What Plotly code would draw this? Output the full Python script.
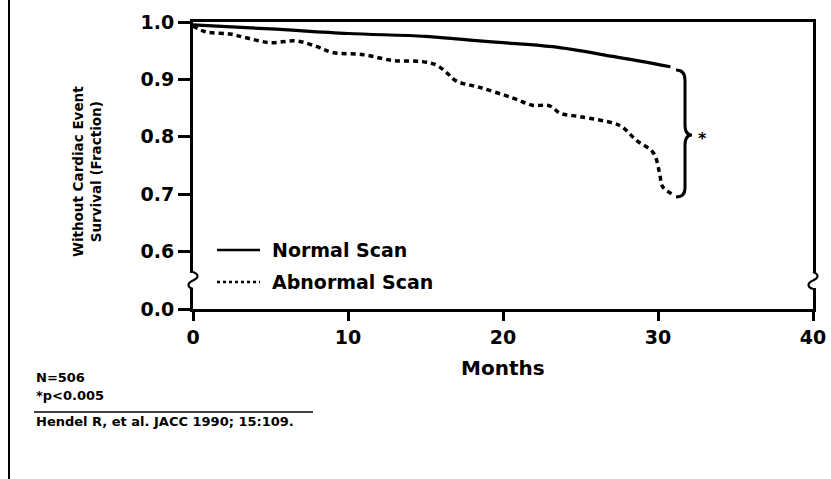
import plotly.graph_objects as go

# ---- data ----
months_normal = [0.0, 5.0, 10.0, 15.0, 18.5, 20.0, 23.2, 27.1, 30.8]
survival_normal = [0.995, 0.988, 0.980, 0.975, 0.967, 0.964, 0.957, 0.940, 0.922]

months_abnormal = [0.0, 0.8, 2.4, 3.5, 5.0, 6.7, 8.0, 9.0, 11.0, 12.9, 14.8, 15.7,
                   16.4, 17.0, 18.5, 20.6, 21.9, 23.0, 23.7, 25.0, 27.1, 27.7,
                   28.6, 29.7, 30.1, 30.3, 31.0]
survival_abnormal = [0.993, 0.983, 0.979, 0.972, 0.964, 0.967, 0.957, 0.947, 0.943,
                     0.933, 0.931, 0.925, 0.911, 0.897, 0.886, 0.868, 0.855, 0.854,
                     0.841, 0.835, 0.824, 0.817, 0.794, 0.772, 0.737, 0.713, 0.699]

x_tickvals = [0, 10, 20, 30, 40]
y_tickvals = [0.5, 0.6, 0.7, 0.8, 0.9, 1.0]
y_ticktext = ["0.0", "0.6", "0.7", "0.8", "0.9", "1.0"]

series_names = ["Normal Scan", "Abnormal Scan"]
notes = ["N=506", "*p<0.005"]
citation = "Hendel R, et al. JACC 1990; 15:109."

# ---- layout geometry (pixels) ----
W, H = 831, 479
L, R, T, B = 193, 813, 22, 309
FONT = "DejaVu Sans"


def px(x):
    return (x - L) / (R - L)


def py(y):
    return (B - y) / (B - T)


fig = go.Figure()
fig.add_trace(go.Scatter(x=months_normal, y=survival_normal, mode="lines",
                         name=series_names[0], line=dict(color="black", width=3.2, shape="spline"),
                         showlegend=False))
fig.add_trace(go.Scatter(x=months_abnormal, y=survival_abnormal, mode="lines",
                         name=series_names[1],
                         line=dict(color="black", width=3.5, dash="5px,4px", shape="spline"),
                         showlegend=False))

shapes = []
annotations = []

# axis breaks (left and right)
for ax in (L, R):
    shapes.append(dict(type="line", xref="paper", yref="paper", x0=px(ax), x1=px(ax),
                       y0=py(273), y1=py(288), line=dict(color="white", width=6), layer="above"))
    path = "M {},{} C {},{} {},{} {},{} C {},{} {},{} {},{}".format(
        px(ax), py(272), px(ax + 6), py(274), px(ax + 6), py(278), px(ax), py(280.5),
        px(ax - 6), py(283), px(ax - 6), py(287), px(ax), py(289))
    shapes.append(dict(type="path", xref="paper", yref="paper", path=path,
                       line=dict(color="black", width=2.2), layer="above"))

# brace
bp = [(676, 70), (685, 70), (685, 80), (685, 125), (685, 135), (692, 135),
      (685, 135), (685, 145), (685, 188), (685, 197), (676, 197)]
bpp = [(px(a), py(b)) for a, b in bp]
path = ("M {0[0]},{0[1]} Q {1[0]},{1[1]} {2[0]},{2[1]} L {3[0]},{3[1]} "
        "Q {4[0]},{4[1]} {5[0]},{5[1]} Q {6[0]},{6[1]} {7[0]},{7[1]} "
        "L {8[0]},{8[1]} Q {9[0]},{9[1]} {10[0]},{10[1]}").format(*bpp)
shapes.append(dict(type="path", xref="paper", yref="paper", path=path,
                   line=dict(color="black", width=3)))
annotations.append(dict(text="*", x=px(702), y=py(138), xref="paper", yref="paper",
                        xanchor="center", yanchor="middle", showarrow=False,
                        font=dict(family=FONT, size=16, color="black", weight="bold")))

# legend (custom)
legend_rows = [(250, "solid"), (282, "3px,3px")]
for (yrow, dash), name in zip(legend_rows, series_names):
    shapes.append(dict(type="line", xref="paper", yref="paper", x0=px(217), x1=px(260),
                       y0=py(yrow), y1=py(yrow), line=dict(color="black", width=2.5, dash=dash)))
    annotations.append(dict(text=name, x=px(270), y=py(yrow), xref="paper", yref="paper",
                            xanchor="left", yanchor="middle", showarrow=False,
                            font=dict(family=FONT, size=19, color="black", weight="bold")))

# axis titles
annotations.append(dict(text="Without Cardiac Event<br>Survival (Fraction)", textangle=-90,
                        x=px(87), y=py(172), xref="paper", yref="paper", showarrow=False,
                        xanchor="center", yanchor="middle",
                        font=dict(family=FONT, size=13.5, color="black", weight="bold")))
annotations.append(dict(text="Months", x=px(503), y=py(368), xref="paper", yref="paper",
                        showarrow=False, xanchor="center", yanchor="middle",
                        font=dict(family=FONT, size=20, color="black", weight="bold")))

# notes
for yy, t in zip((377, 395), notes):
    annotations.append(dict(text=t, x=px(34), y=py(yy), xref="paper", yref="paper",
                            xanchor="left", yanchor="middle", showarrow=False,
                            font=dict(family=FONT, size=13, color="black", weight="bold")))
shapes.append(dict(type="line", xref="paper", yref="paper", x0=px(34), x1=px(313),
                   y0=py(412), y1=py(412), line=dict(color="black", width=1.5)))
annotations.append(dict(text=citation, x=px(34), y=py(421), xref="paper", yref="paper",
                        xanchor="left", yanchor="middle", showarrow=False,
                        font=dict(family=FONT, size=13, color="black", weight="bold")))

# outer left frame line
shapes.append(dict(type="line", xref="paper", yref="paper", x0=px(9), x1=px(9),
                   y0=py(0), y1=py(H), line=dict(color="black", width=2)))

fig.update_layout(
    template="none",
    width=W, height=H,
    margin=dict(l=L, r=W - R, t=T, b=H - B, pad=0),
    paper_bgcolor="white", plot_bgcolor="white",
    shapes=shapes, annotations=annotations,
    xaxis=dict(range=[0, 40], tickvals=x_tickvals, showgrid=False, zeroline=False,
               automargin=False,
               showline=True, linecolor="black", linewidth=3, mirror=True,
               ticks="outside", ticklen=9, tickwidth=2.5, tickcolor="black",
               tickfont=dict(family=FONT, size=19, color="black", weight="bold")),
    yaxis=dict(range=[0.5, 1.0], tickvals=y_tickvals, ticktext=y_ticktext, showgrid=False,
               automargin=False,
               zeroline=False, showline=True, linecolor="black", linewidth=3, mirror=True,
               ticks="outside", ticklen=12, tickwidth=2.5, tickcolor="black",
               tickfont=dict(family=FONT, size=19, color="black", weight="bold")),
)

fig.write_html("out.html", config={"displayModeBar": False},
               post_script="document.body.style.margin='0';document.body.style.overflow='hidden';")
